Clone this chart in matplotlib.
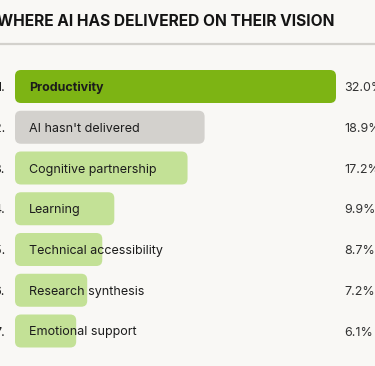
import matplotlib
matplotlib.use("Agg")
import matplotlib.pyplot as plt
from matplotlib.patches import FancyBboxPatch

categories = ["Productivity", "AI hasn't delivered", "Cognitive partnership", "Learning",
              "Technical accessibility", "Research synthesis", "Emotional support"]
values = [32.0, 18.9, 17.2, 9.9, 8.7, 7.2, 6.1]
ranks = ["1.", "2.", "3.", "4.", "5.", "6.", "7."]
value_labels = ["32.0%", "18.9%", "17.2%", "9.9%", "8.7%", "7.2%", "6.1%"]
colors = ["#7db414", "#d3d1cd", "#c3e196", "#c3e196", "#c3e196", "#c3e196", "#c3e196"]
title = "WHERE AI HAS DELIVERED ON THEIR VISION"

W, H = 375, 366
bg = "#f9f8f5"
fig = plt.figure(figsize=(W / 100, H / 100), dpi=100, facecolor=bg)
ax = fig.add_axes([0, 0, 1, 1])
ax.set_facecolor(bg)

x0_px = 15
px_per_unit = 321 / 32.0
y0_px = 86.5
row_px = 40.75
ax.set_xlim(-x0_px / px_per_unit, (W - x0_px) / px_per_unit)
ax.set_ylim((H - y0_px) / row_px, -y0_px / row_px)
ax.axis("off")

bar_h = 33 / row_px
aspect = (1 / row_px) / (1 / px_per_unit)
r = 6 / px_per_unit
font = "Inter"
txt = "#1c1c1c"
dy = 1.5 / row_px

for i, (c, v) in enumerate(zip(categories, values)):
    p = FancyBboxPatch((0, i - bar_h / 2), v, bar_h,
                       boxstyle=f"round,pad=0,rounding_size={r}",
                       mutation_aspect=aspect, fc=colors[i], ec="none")
    ax.add_patch(p)
    ax.text(14 / px_per_unit, i + dy, c, va="center", ha="left", fontsize=9.0,
            family=font, color=txt, fontweight="bold" if i == 0 else "normal")
    ax.text(-10 / px_per_unit, i + dy, ranks[i], va="center", ha="right", fontsize=9.0,
            family=font, color=txt)
    ax.text((344 - x0_px) / px_per_unit, i + dy, value_labels[i], va="center", ha="left",
            fontsize=9.0, family=font, color="#333333")

fig.text(-3 / W, 1 - 21.5 / H, title, ha="left", va="center", fontsize=11.2,
         fontweight="bold", family=font, color="#141414")
fig.add_artist(plt.Line2D([0, 1], [1 - 44 / H, 1 - 44 / H], color="#d3d1cc", lw=1.6,
                          transform=fig.transFigure))

fig.savefig("out.png", dpi=100, facecolor=bg)
